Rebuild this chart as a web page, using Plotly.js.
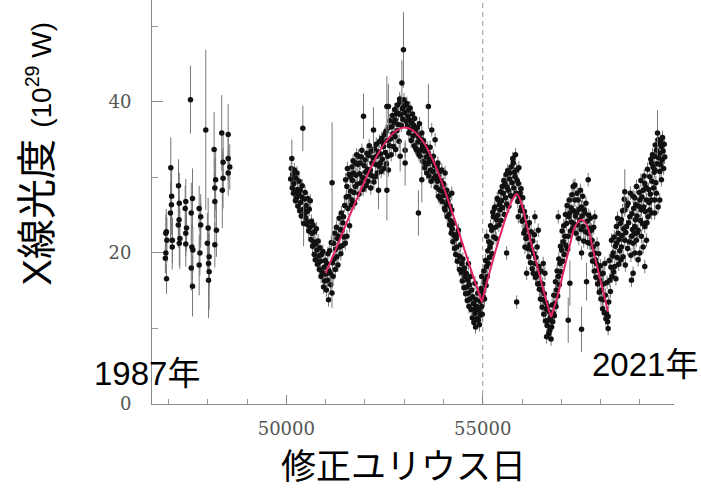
<!DOCTYPE html>
<html>
<head>
<meta charset="utf-8">
<script src="https://cdn.plot.ly/plotly-3.0.1.min.js"></script>
<style>html,body{margin:0;padding:0;background:#fff;}#chart{width:701px;height:488px;}</style>
</head>
<body>
<div id="chart"></div>
<script>
// ---- Early (Ginga era) measurements ----
const mjdEarly = [46932,46960,46932,46920,46950, 46945,47059,47080,47075,47050, 47100,47095,47255,47275,47270,
  47250,47290,47275,47440,47425, 47460,47440,47440,47611,47580, 47595,47620,47580,47611,47560,
  47781,47820,47820,47800,47781, 47949,48010,47990,48035,48020, 48035,48020,48162,48200,48180,
  48180,48220,48180,48355,48390, 48390,48370,48520,48520,48560, 48520];
const lumEarly = [22.6,21.7,20.0,19.3,16.6, 22.8,31.3,27.5,26.4,25.3, 21.7,20.8,28.9,26.6,24.4,
  23.7,21.9,21.3,26.8,25.9, 23.3,22.6,21.2,27.2,25.3, 20.8,20.4,18.0,15.6,40.3,
  25.9,24.8,23.7,20.0,18.4, 36.3,23.3,21.3,19.5,18.6, 17.5,16.4,33.7,29.7,28.6,
  26.8,23.0,21.1,35.9,32.0, 29.9,28.3,35.7,32.5,31.4, 30.6];
const errEarly = [2.5,3,2.5,2,2, 3,4,4,4,4, 3,3,3.5,4,3,
  3,4,3,3,3, 3,3,3,4,4, 3,3,3,4,4.5,
  3,3,3,3,4, 10.6,4,4,4,4, 5,5,5,4,4,
  4,3.5,3,5,4, 4,5,4,3,3, 3];

// ---- Dense monitoring (1996-2021) ----
const mjdMain = [
  50110,50125,50150,50165,50180, 50190,50205,50220,50232,50245, 50260,50272,50285,50300,50312, 50325,50340,50352,50365,50380, 50392,50405,50432,50450,50465, 50478,50490,
  50505,50518,50530,50545,50558, 50570,50585,50598,50610,50625, 50640,50653,50668,50680,50695, 50710,50722,50737,50750,50765, 50780,50795,50810,50825,50840, 50855,50870,50885,50900,50915, 50930,50948,50960,50975,50990,
  51005,51020,51034,51048,51060, 51075,51090,51105,51118,51130, 51145,51175,51190,51203,51215, 51230,51245,51260,51275,51288, 51300,51315,51330,51345,51360, 51372,51388,51400,51415,51428, 51440,51457,51470,51485,51500,
  51510,51525,51542,51542,51555, 51570,51584,51598,51610,51627, 51640,51655,51670,51670,51685, 51700,51711,51725,51740,51754, 51760,51775,51790,51805,51820, 51838,51850,51865,51881,51895, 51910,51923,51940,51955,51980, 51995,
  52008,52020,52035,52051,52065, 52080,52095,52110,52125,52135, 52150,52165,52178,52190,52205, 52230,52245,52262,52275,52290, 52306,52320,52335,52360,52375, 52389,52400,52415,52430,52445, 52460,52473,52488,
  52505,52520,52535,52548,52572, 52585,52600,52612,52625,52640, 52655,52670,52687,52700,52715, 52730,52745,52760,52771,52771, 52785,52800,52815,52830,52845, 52855,52870,52885,52898,52910, 52925,52955,52970,52982,52995,
  53010,53025,53040,53055,53068, 53080,53095,53109,53120,53135, 53150,53165,53180,53195,53210, 53225,53240,53255,53267,53279, 53290,53305,53322,53335,53350, 53363,53375,53390,53406,53420, 53435,53449,53462,53478,53490,
  53505,53520,53533,53548,53562, 53575,53590,53605,53617,53630, 53645,53660,53672,53688,53702, 53715,53730,53744,53758,53770, 53788,53800,53815,53830,53845, 53858,53872,53872,53888,53900, 53915,53930,53944,53957,53970, 53985,53998,
  54012,54028,54042,54042,54055, 54070,54085,54098,54112,54126, 54140,54155,54168,54182,54198, 54212,54212,54225,54240,54253, 54268,54282,54296,54310,54325, 54339,54352,54366,54380,54395, 54408,54423,54438,54452,54466, 54480,54494,
  54507,54522,54536,54550,54565, 54580,54593,54607,54620,54635, 54635,54650,54665,54678,54693, 54707,54720,54735,54748,54762, 54776,54790,54804,54804,54818, 54832,54847,54860,54875,54889, 54903,54917,54930,54945,54960, 54974,54974,54988,
  55002,55015,55030,55045,55058, 55058,55072,55086,55100,55100, 55115,55129,55143,55157,55172, 55186,55200,55214,55229,55243, 55256,55270,55284,55298,55313, 55326,55341,55355,55369,55383, 55397,55411,55425,55440,55454, 55468,55482,55496,
  55510,55524,55538,55552,55567, 55581,55595,55609,55609,55623, 55637,55651,55665,55680,55694, 55708,55722,55736,55750,55764, 55778,55792,55806,55821,55835, 55850,55864,55864,55878,55892, 55906,55906,55920,55934,55948, 55962,55976,55991,
  56005,56019,56033,56047,56061, 56075,56075,56089,56104,56118, 56132,56146,56160,56174,56188, 56202,56217,56231,56245,56259, 56273,56287,56301,56315,56329, 56329,56343,56357,56371,56385, 56400,56414,56414,56428,56442, 56456,56470,56484,
  56499,56513,56527,56541,56541, 56555,56569,56583,56597,56612, 56626,56626,56640,56654,56668, 56682,56696,56711,56725,56740, 56754,56768,56782,56796,56810, 56824,56838,56852,56866,56881, 56895,56909,56923,56923,56937, 56951,56965,56980,56994,
  57008,57022,57036,57050,57064, 57078,57092,57106,57120,57134, 57148,57163,57177,57191,57205, 57219,57233,57247,57261,57275, 57290,57304,57318,57332,57346, 57346,57360,57374,57388,57402, 57416,57431,57445,57459,57473, 57487,
  57502,57516,57516,57530,57544, 57557,57572,57586,57600,57614, 57628,57657,57671,57685,57685, 57699,57713,57728,57742,57756, 57770,57784,57798,57812,57826, 57840,57854,57854,57868,57882, 57897,57911,57925,57939,57953, 57967,57982,
  57996,58010,58024,58038,58052, 58066,58066,58080,58094,58108, 58122,58137,58151,58165,58179, 58193,58193,58207,58222,58236, 58250,58264,58279,58293,58307, 58320,58334,58349,58363,58377, 58391,58405,58405,58419,58433, 58447,58461,58475,58489,
  58504,58518,58533,58533,58547, 58561,58575,58589,58603,58617, 58617,58631,58645,58660,58674, 58688,58702,58716,58730,58744, 58758,58773,58787,58787,58801, 58815,58829,58829,58829,58843, 58857,58872,58872,58872,58886, 58900,58914,58914,58928,58942, 58956,58956,58970,58985,
  58999,58999,59013,59027,59041, 59041,59055,59069,59083,59083, 59097,59111,59126,59126,59126, 59140,59154,59168,59168,59182, 59196,59210,59224,59238,59253, 59253,59267,59281,59295,59295, 59295,59309,59323,59337,59351, 59365,59379,59379,59379,59380, 59393,59408,59422,59422,59436, 59465,59465,59479,59493,59507, 59507,59507,59521,59535,59549, 59549,59563,59578,59592,59606, 59620,59634
];
const lumMain = [
  29.8,31.2,28.6,30.4,27.9, 29.2,31.0,28.1,26.9,29.9, 27.3,30.6,28.4,26.2,27.8, 29.5,25.6,28.3,26.7,24.9, 27.4,28.9,25.8,27.1,25.2, 28.0,24.6,
  26.3,23.8,25.5,27.2,24.1, 22.9,25.8,23.4,26.9,21.8, 24.2,22.6,20.9,23.7,21.5, 19.8,22.8,19.1,21.2,23.2, 20.4,18.5,21.6,19.6,17.8, 20.7,18.9,16.9,19.8,17.4, 20.2,15.5,18.1,16.3,19.0,
  17.2,15.1,18.6,16.4,19.9, 13.8,17.6,20.3,17.3,15.8, 21.4,18.7,16.9,21.3,19.2, 22.6,17.8,20.5,23.4,19.5, 21.9,18.4,22.2,24.6,20.8, 23.1,19.9,25.3,23.0,21.0, 24.0,24.8,22.1,26.3,21.3,
  29.7,27.4,28.8,22.2,31.2, 25.9,27.5,30.4,23.6,30.1, 28.2,26.4,31.4,27.0,29.6, 32.2,30.6,28.0,26.6,31.9, 28.8,30.3,33.0,29.1,31.7, 32.8,27.8,30.5,31.9,29.3, 32.7,33.6,30.0,28.4,31.6, 29.8,
  32.3,30.7,28.9,33.2,31.1, 29.5,32.9,34.2,30.4,31.0, 28.6,33.5,31.9,30.2,32.6, 29.4,33.8,30.1,31.7,34.4, 32.8,30.6,33.4,31.5,34.8, 31.9,33.1,30.8,35.2,32.4, 34.6,34.1,31.2,
  35.7,33.3,36.1,31.8,34.9, 32.8,31.0,36.6,34.2,37.5, 35.1,33.0,36.7,38.2,35.8, 34.1,37.3,39.0,37.6,35.4, 33.7,38.4,36.2,39.6,37.0, 38.5,34.8,40.4,40.0,38.3, 36.9,39.1,37.7,39.4,40.3,
  38.6,33.6,39.6,37.4,39.8, 36.8,38.1,38.9,35.9,37.6, 39.2,36.4,34.9,37.2,38.4, 35.5,36.9,34.2,37.8,36.3, 33.9,35.8,33.6,36.6,34.7, 35.4,33.1,37.1,32.8,35.1, 33.7,35.9,34.3,32.1,34.9,
  33.5,31.3,31.9,34.1,32.7, 30.6,33.9,31.8,33.2,30.2, 32.4,34.0,31.0,29.5,36.3, 32.1,30.8,32.8,29.9,31.6, 35.0,30.2,28.7,31.4,29.5, 31.9,30.1,27.5,28.4,30.8, 27.2,29.6,28.2,31.0,26.8, 29.0,29.2,
  27.6,25.9,30.6,25.7,28.1, 26.4,28.3,24.8,26.9,27.5, 25.1,23.7,26.2,24.3,22.6, 27.9,25.7,23.2,21.5,23.9, 22.4,20.6,22.2,19.8,21.9, 20.8,18.9,22.5,23.0,19.6, 17.8,19.5,21.1,17.4,18.6, 16.3,19.2,
  17.7,15.4,18.0,16.9,14.6, 17.3,15.5,13.7,16.4,14.7, 18.6,12.9,15.8,13.9,16.9, 12.5,15.1,11.4,14.2,13.3, 10.8,12.6,12.0,16.0,10.2, 13.8,12.9,11.3,14.7,11.1, 12.4,10.5,13.6,11.8,15.3, 12.9,16.9,11.9,
  14.8,14.2,17.6,13.9,16.4, 16.0,19.0,15.7,22.2,18.2, 16.9,20.3,18.6,21.5,19.4, 20.8,23.6,21.3,23.0,19.9, 25.4,24.8,22.1,25.9,26.1, 23.4,21.9,24.4,27.2,25.0, 27.0,23.7,26.4,25.7,28.1, 24.3,26.9,28.8,
  26.0,27.9,29.6,25.1,29.2, 27.3,30.4,20.0,26.5,28.7, 30.9,28.3,26.2,29.8,30.6, 27.6,31.4,27.5,29.3,32.5, 31.9,28.6,30.7,30.1,33.0, 27.9,31.0,13.5,29.6,26.8, 29.2,24.8,31.3,27.4,27.9, 25.6,28.5,26.1,
  24.2,27.3,24.4,22.6,25.5, 23.0,20.8,24.8,21.9,17.3, 23.6,20.6,22.2,19.5,24.0, 21.1,18.7,22.8,20.4,17.9, 21.6,17.3,19.9,22.4,18.6, 24.8,16.8,19.4,17.0,20.8, 15.9,17.3,23.0,18.2,15.2, 16.0,13.9,17.6,
  15.1,12.8,15.9,13.8,18.6, 11.9,14.6,17.3,11.0,13.4, 12.5,8.9,10.4,12.9,11.1, 9.3,12.2,9.8,11.5,8.6, 10.2,13.1,10.9,12.0,14.4, 11.7,13.3,16.2,12.9,15.1, 17.6,14.3,16.9,24.8,19.2, 15.8,18.6,20.9,17.5,
  20.4,22.9,18.9,21.5,23.6, 19.8,22.2,25.1,21.0,23.9, 26.3,20.5,22.2,24.8,27.0, 25.3,22.9,26.0,24.1,27.7, 23.2,28.8,25.6,23.8,27.0, 29.0,24.9,22.6,25.3,27.9, 23.7,27.0,21.9,25.8,24.4, 28.3,
  23.1,26.1,20.0,24.9,27.5, 23.5,21.6,25.7,25.3,22.8, 26.6,24.2,21.4,29.7,22.6, 25.0,23.3,21.3,24.6,19.8, 23.0,21.7,18.9,20.8,23.4, 17.6,24.8,20.0,19.1,16.8, 18.6,21.2,15.9,17.7,19.9, 14.8,16.4,
  18.3,13.9,15.1,17.2,12.6, 13.8,17.3,15.9,12.1,18.6, 14.4,11.3,12.0,16.1,10.9, 11.6,10.0,13.5,19.0,16.4, 14.9,18.1,21.7,16.9,19.6, 20.0,17.5,22.1,18.2,20.9, 16.6,21.3,23.5,19.4,24.6, 22.6,18.5,21.8,20.3,
  23.9,19.1,20.8,24.4,22.3, 25.6,19.5,23.2,27.1,21.7, 25.7,18.4,22.7,23.5,26.3, 20.6,26.6,24.0,21.5,24.8, 27.9,19.7,22.2,16.4,25.2, 23.1,27.5,21.3,17.3,25.9, 22.5,20.0,23.5,27.3,24.4, 26.4,28.8,21.7,24.9,22.7, 23.0,19.1,26.2,28.0,
  27.0,20.0,24.3,29.6,25.7, 22.2,27.4,23.9,28.3,20.8, 26.1,30.2,29.2,23.5,18.2, 25.5,28.7,27.0,21.7,24.0, 31.1,24.8,28.4,26.7,25.7, 30.1,27.8,32.4,27.0,31.9, 25.3,29.5,33.0,31.4,28.6, 30.7,31.0,27.0,25.3,32.8, 34.3,29.3,33.6,27.9,31.8, 35.0,26.1,32.6,34.5,33.2, 30.8,27.0,31.7,34.8,34.1, 29.7,32.3,35.3,33.5,31.2, 34.4,32.7
];
const errMain = 0.9;

// ---- Points with large visible error bars ----
const mjdWide = [50140,50420,50440,51162,51165, 51965,52219,52346,52560,52560, 52600,52898,52941,52982,53025, 53363,53449,53617,57177,57219, 57516,57643,58617,59450];
const lumWide = [32.5,36.5,23.9,14.7,29.3, 38.1,36.3,28.3,39.4,28.3, 39.4,32.8,42.5,46.9,31.9, 25.3,29.7,39.4,11.1,16.0, 9.9,16.2,28.1,35.9];
const errWide = [2.5,3,3,2,8, 3,3,2.5,4,4, 3,2,3,5,3, 3,3,3,3,3, 3,2.5,3,3];

// ---- Fitted modulation curves (red) ----
const fitX1 = [51000,51300,51600,51900,52200,52500,52800,53000,53200,53500,53800,54100,54400,54700,54980];
const fitY1 = [17.3,21.0,24.8,28.4,31.8,34.5,36.2,36.6,36.3,34.6,31.5,27.3,22.6,17.8,13.5];
const fitX2 = [54980,55100,55300,55450,55600,55750,55870,56000,56150,56300,56450,56600,56740];
const fitY2 = [13.5,16.0,19.8,22.4,24.9,27.0,27.8,26.3,23.0,20.0,17.0,14.0,11.5];
const fitX3 = [56740,56900,57050,57200,57350,57500,57640,57800,57950,58100,58190];
const fitY3 = [11.5,14.2,17.4,20.6,23.5,24.4,23.8,20.6,17.4,14.2,12.2];

const markerMJD = 55000;
const xRange = [46580, 59870];
const yRange = [0, 53.5];

const ptMarker = {color: '#111', size: 5.5};
const ebStyle = {color: '#777', thickness: 1, width: 0};
const fitLine = {color: '#e0245e', width: 2, shape: 'spline'};

const traces = [
  {x: mjdEarly, y: lumEarly, type: 'scatter', mode: 'markers', marker: ptMarker,
   error_y: Object.assign({type: 'data', array: errEarly, visible: true}, ebStyle), showlegend: false},
  {x: mjdMain, y: lumMain, type: 'scatter', mode: 'markers', marker: ptMarker,
   error_y: Object.assign({type: 'constant', value: errMain, visible: true}, ebStyle), showlegend: false},
  {x: mjdWide, y: lumWide, type: 'scatter', mode: 'markers', marker: ptMarker,
   error_y: Object.assign({type: 'data', array: errWide, visible: true}, ebStyle), showlegend: false},
  {x: fitX1, y: fitY1, type: 'scatter', mode: 'lines', line: fitLine, showlegend: false},
  {x: fitX2, y: fitY2, type: 'scatter', mode: 'lines', line: fitLine, showlegend: false},
  {x: fitX3, y: fitY3, type: 'scatter', mode: 'lines', line: fitLine, showlegend: false}
];

const tickFont = {family: 'DejaVu Serif, Liberation Serif, serif', size: 18, color: '#555'};
const jpFont = 'Liberation Sans, Noto Sans CJK JP, sans-serif';

const layout = {
  width: 701, height: 488,
  margin: {l: 152, r: 27, t: 0, b: 84, pad: 0},
  paper_bgcolor: '#fff', plot_bgcolor: '#fff',
  showlegend: false,
  xaxis: {
    range: xRange, tickmode: 'linear', tick0: 0, dtick: 5000,
    ticks: 'inside', ticklen: 9, tickcolor: '#888', tickwidth: 1,
    minor: {tickmode: 'linear', tick0: 0, dtick: 1000, ticks: 'inside', ticklen: 5, tickcolor: '#999'},
    showline: true, linecolor: '#888', linewidth: 1, showgrid: false, zeroline: false,
    tickfont: tickFont, ticklabelstandoff: 8, tickformat: 'd'
  },
  yaxis: {
    range: yRange, tickmode: 'linear', tick0: 0, dtick: 20,
    ticks: 'inside', ticklen: 11, tickcolor: '#888', tickwidth: 1,
    minor: {tickmode: 'linear', tick0: 0, dtick: 10, ticks: 'inside', ticklen: 6, tickcolor: '#999'},
    showline: true, linecolor: '#888', linewidth: 1, showgrid: false, zeroline: false,
    tickfont: tickFont, ticklabelstandoff: 16
  },
  yaxis2: {
    overlaying: 'y', side: 'right', range: yRange, tickmode: 'linear', tick0: 0, dtick: 10,
    ticks: 'inside', ticklen: 8, tickcolor: '#aaa', showticklabels: false,
    showline: false, showgrid: false, zeroline: false
  },
  shapes: [
    {type: 'line', xref: 'x', yref: 'paper', x0: markerMJD, x1: markerMJD, y0: 0, y1: 1,
     line: {color: '#999', width: 1, dash: '5px,4px'}, layer: 'below'}
  ],
  annotations: [
    {xref: 'paper', yref: 'paper', x: -0.222, y: 0.62, xanchor: 'center', yanchor: 'middle',
     textangle: -90, showarrow: false,
     text: 'X線光度 <span style="font-size:28px">(10<sup>29</sup> W)</span>',
     font: {family: jpFont, size: 40, color: '#000'}},
    {xref: 'paper', yref: 'paper', x: 0.481, y: -0.1535, xanchor: 'center', yanchor: 'middle',
     showarrow: false, text: '修正ユリウス日', font: {family: jpFont, size: 35, color: '#000'}},
    {xref: 'paper', yref: 'paper', x: -0.0096, y: 0.0767, xanchor: 'center', yanchor: 'middle',
     showarrow: false, text: '1987年', font: {family: jpFont, size: 33, color: '#000'}},
    {xref: 'paper', yref: 'paper', x: 0.9444, y: 0.099, xanchor: 'center', yanchor: 'middle',
     showarrow: false, text: '2021年', font: {family: jpFont, size: 33, color: '#000'}}
  ]
};

Plotly.newPlot('chart', traces, layout, {staticPlot: true, displayModeBar: false});
</script>
</body>
</html>
